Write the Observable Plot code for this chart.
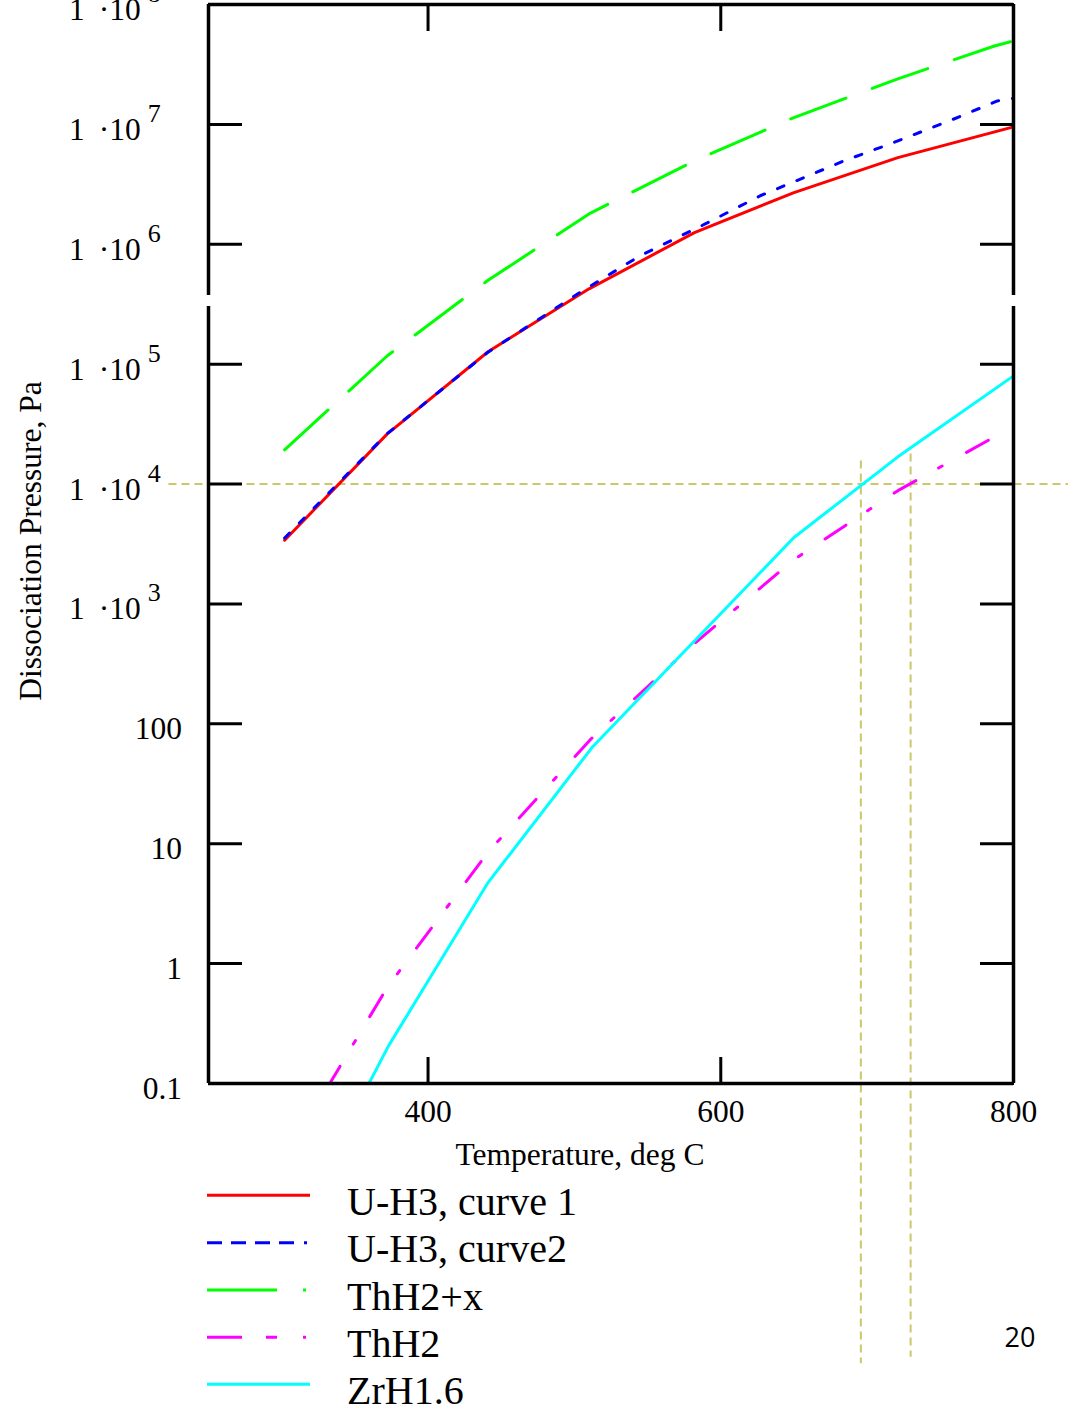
<!DOCTYPE html>
<html><head><meta charset="utf-8">
<script src="https://cdn.jsdelivr.net/npm/d3@7"></script>
<script src="https://cdn.jsdelivr.net/npm/@observablehq/plot@0.6"></script>
<style>
html,body{margin:0;padding:0;background:#fff;}
#chart{position:relative;width:1068px;height:1405px;overflow:hidden;}
</style></head><body><div id="chart"></div>
<script>
// ---- data (temperature in deg C, dissociation pressure in Pa) ----
const uh3Curve1T = [302, 372, 441, 510, 582, 650, 721, 800];
const uh3Curve1P = [3.40e3, 2.61e4, 1.27e5, 4.25e5, 1.25e6, 2.70e6, 5.28e6, 9.53e6];
const uh3Curve2T = [302, 372, 441, 504, 545, 589, 627, 684, 718, 757, 789, 800];
const uh3Curve2P = [3.55e3, 2.63e4, 1.26e5, 3.98e5, 8.04e5, 1.47e6, 2.54e6, 4.95e6, 7.05e6, 1.08e7, 1.57e7, 1.65e7];
const thH2xT = [302, 372, 441, 511, 581, 650, 721, 787, 800];
const thH2xP = [1.93e4, 1.17e5, 5.01e5, 1.82e6, 4.90e6, 1.14e7, 2.40e7, 4.51e7, 4.97e7];
const thH2T = [302, 372, 441, 511, 581, 650, 721, 792];
const thH2P = [0.0234, 0.631, 8.51, 74.1, 457, 2344, 8810, 26800];
const zrH16T = [302, 373, 441, 512, 650, 721, 800];
const zrH16P = [0.00447, 0.206, 4.74, 63.4, 3581, 16870, 79800];

const seriesNames = ["U-H3, curve 1", "U-H3, curve2", "ThH2+x", "ThH2", "ZrH1.6"];
const seriesColors = ["#ff0000", "#0000ff", "#00ff00", "#ff00ff", "#00ffff"];
const seriesT = [uh3Curve1T, uh3Curve2T, thH2xT, thH2T, zrH16T];
const seriesP = [uh3Curve1P, uh3Curve2P, thH2xP, thH2P, zrH16P];

const xDomain = [250, 800];
const yDomain = [0.1, 1e8];
const xTickValues = [400, 600, 800];
const xTickLabels = ["400", "600", "800"];
const yTickValues = [0.1, 1, 10, 100, 1e3, 1e4, 1e5, 1e6, 1e7, 1e8];
const yTickText = ["0.1", "1", "10", "100", "1", "1", "1", "1", "1", "1"];
const yTickExp = [null, null, null, null, "3", "4", "5", "6", "7", "8"];

// reference (read-off) lines: P = 1e4 and the two crossing temperatures
const refH = [{y: 1e4, x1: 223, x2: 838}];
const refV = [{x: 695.7, y1: 1.56e4, y2: 4.6e-4}, {x: 729.7, y1: 1.78e4, y2: 5.2e-4}];
// axis segments (the plot frame has a small break on both sides)
const axisSegments = [
  {x: 250, y1: 0.1, y2: 3.03e5}, {x: 250, y1: 3.74e5, y2: 1e8},
  {x: 800, y1: 0.1, y2: 3.03e5}, {x: 800, y1: 3.74e5, y2: 1e8}
];
const frameY = [0.1, 1e8];

const xTitle = "Temperature, deg C";
const yTitle = "Dissociation Pressure, Pa";
const pageNumber = "20";

// ---- table ----
const rows = [];
seriesNames.forEach((s, k) => seriesT[k].forEach((t, i) => rows.push({series: s, T: t, P: seriesP[k][i]})));

const dashes = ["none", "7,14", "59,28", "25,26,4,28", "none"];
const legendDashes = ["none", "15,9,15,9,15,9,15,10,3,100", "70,26,3,100", "35,24,11,26,3,100", "none"];

const refColor = "#cbc76a";
const serif = "'Liberation Serif', 'Times New Roman', serif";
const axisFont = 31.5;

const plot = Plot.plot({
  width: 1068, height: 1405,
  marginTop: 4, marginBottom: 322, marginLeft: 208, marginRight: 55,
  style: {fontFamily: serif, fontSize: axisFont + "px", background: "#fff", overflow: "visible", color: "#000"},
  x: {domain: xDomain, label: null},
  y: {type: "log", domain: yDomain, label: null},
  marks: [
    Plot.ruleY(refH, {y: "y", x1: "x1", x2: "x2", stroke: refColor, strokeWidth: 2, strokeDasharray: "8,5"}),
    Plot.ruleX(refV, {x: "x", y1: "y1", y2: "y2", stroke: refColor, strokeWidth: 2, strokeDasharray: "8,5"}),
    ...seriesNames.map((s, k) => Plot.line(rows.filter(d => d.series === s), {
      x: "T", y: "P", stroke: seriesColors[k], strokeWidth: 3,
      strokeDasharray: dashes[k], strokeLinecap: "round", clip: true
    })),
    Plot.ruleY(frameY, {stroke: "#000", strokeWidth: 3.5}),
    Plot.ruleX(axisSegments, {x: "x", y1: "y1", y2: "y2", stroke: "#000", strokeWidth: 3.5, strokeLinecap: "butt"}),
    Plot.axisY({anchor: "left", ticks: yTickValues, tickSize: -34, tickFormat: () => "", strokeWidth: 3, label: null}),
    Plot.axisY({anchor: "right", ticks: yTickValues, tickSize: -34, tickFormat: () => "", strokeWidth: 3, label: null}),
    Plot.axisX({anchor: "bottom", ticks: xTickValues, tickSize: -26, tickPadding: 42, strokeWidth: 3,
      tickFormat: d => xTickLabels[xTickValues.indexOf(d)], label: null}),
    Plot.axisX({anchor: "top", ticks: xTickValues, tickSize: -26, tickFormat: () => "", strokeWidth: 3, label: null})
  ]
});

document.getElementById("chart").appendChild(plot);

// ---- extra text via the plot's own scales ----
const svg = d3.select(plot);
const sy = plot.scale("y");
const yFn = sy.apply ? (v => sy.apply(v)) : d3.scaleLog(sy.domain, sy.range);

const g = svg.append("g").attr("font-family", serif).attr("font-size", axisFont).attr("fill", "#000");
yTickValues.forEach((v, i) => {
  const yy = yFn(v) + 16;
  if (yTickExp[i]) {
    const t = g.append("text").attr("x", 69).attr("y", yy).attr("text-anchor", "start");
    t.append("tspan").text(yTickText[i]);
    t.append("tspan").attr("dx", 14).text("\u00B710");
    t.append("tspan").attr("dx", 7).attr("dy", -18).attr("font-size", 26).text(yTickExp[i]);
  } else {
    g.append("text").attr("x", 182).attr("y", yy).attr("text-anchor", "end").text(yTickText[i]);
  }
});

g.append("text").attr("x", 580).attr("y", 1165).attr("text-anchor", "middle").text(xTitle);
g.append("text").attr("transform", "translate(41,541) rotate(-90)").attr("text-anchor", "middle").text(yTitle);

// legend
const legendY = [1195.3, 1242.7, 1290, 1337.3, 1384.3];
const lg = svg.append("g");
seriesNames.forEach((s, k) => {
  lg.append("line").attr("x1", 207).attr("x2", 310).attr("y1", legendY[k]).attr("y2", legendY[k])
    .attr("stroke", seriesColors[k]).attr("stroke-width", 3)
    .attr("stroke-dasharray", legendDashes[k]);
  lg.append("text").attr("x", 347).attr("y", legendY[k] + 19.5).attr("text-anchor", "start")
    .attr("font-family", serif).attr("font-size", 40).attr("fill", "#000").text(s);
});

svg.append("text").attr("x", 1020).attr("y", 1346.5).attr("text-anchor", "middle")
  .attr("font-family", "'Open Sans', 'DejaVu Sans', sans-serif").attr("font-size", 27).attr("fill", "#000").text(pageNumber);
</script>
</body></html>
